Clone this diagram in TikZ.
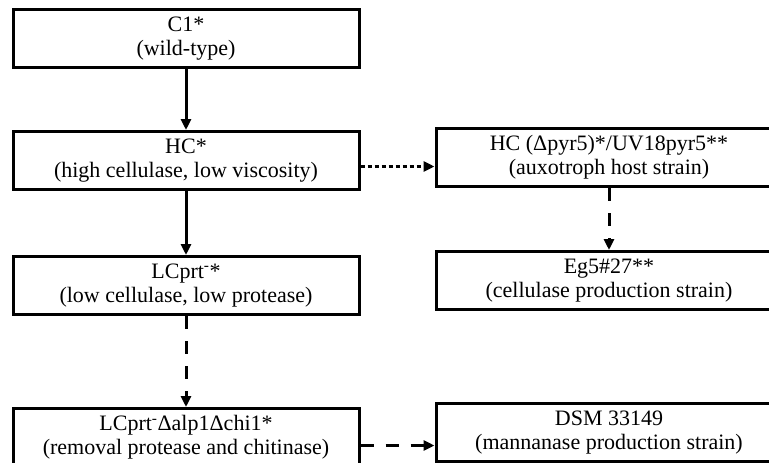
\documentclass[tikz,border=0pt]{standalone}
\usepackage{fontspec}
\setmainfont{Liberation Serif}
\usetikzlibrary{positioning,arrows.meta}

\begin{document}
\begin{tikzpicture}[
    x=1pt, y=-1pt,
    every node/.style={font=\fontsize{22}{24}\selectfont},
    strain/.style={rectangle, draw, line width=3pt, minimum width=346pt,
          minimum height=58pt, align=center, inner sep=0pt},
    arr/.style={-{Triangle[length=11pt,width=10pt]}, line width=3pt},
    dasharr/.style={arr, dash pattern=on 13pt off 12pt},
    dotarr/.style={arr, dash pattern=on 4pt off 3pt},
]
    \useasboundingbox (0,0) rectangle (769,463);
    \clip (0,0) rectangle (769,463);
    % left column
    \node[strain] (c1) at (186,38.5) {C1*\\(wild-type)};
    \node[strain, below=61pt of c1] (hc)
        {HC*\\(high cellulase, low viscosity)};
    \node[strain, below=64pt of hc] (lc)
        {LCprt\textsuperscript{-}*\\(low cellulase, low protease)};
    \node[strain, below=91pt of lc] (lcd)
        {LCprt\textsuperscript{-}Δalp1Δchi1*\\(removal protease and chitinase)};
    % right column
    \node[strain, right=74pt of hc, yshift=3pt] (host)
        {HC (Δpyr5)*/UV18pyr5**\\(auxotroph host strain)};
    \node[strain, below=62pt of host] (eg5)
        {Eg5\#27**\\(cellulase production strain)};
    \node[strain, right=74pt of lcd, yshift=5pt] (dsm)
        {DSM 33149\\(mannanase production strain)};
    % connectors
    \draw[arr] (c1) -- (hc);
    \draw[arr] (hc) -- (lc);
    \draw[dasharr] (lc) -- (lcd);
    \draw[dasharr] (host) -- (eg5);
    \coordinate (hcout) at ([yshift=-6pt]hc.east);
    \draw[dotarr] (hcout) -- (hcout -| host.west);
    \coordinate (lcdout) at ([yshift=-8pt]lcd.east);
    \draw[dasharr] (lcdout) -- (lcdout -| dsm.west);
\end{tikzpicture}
\end{document}
